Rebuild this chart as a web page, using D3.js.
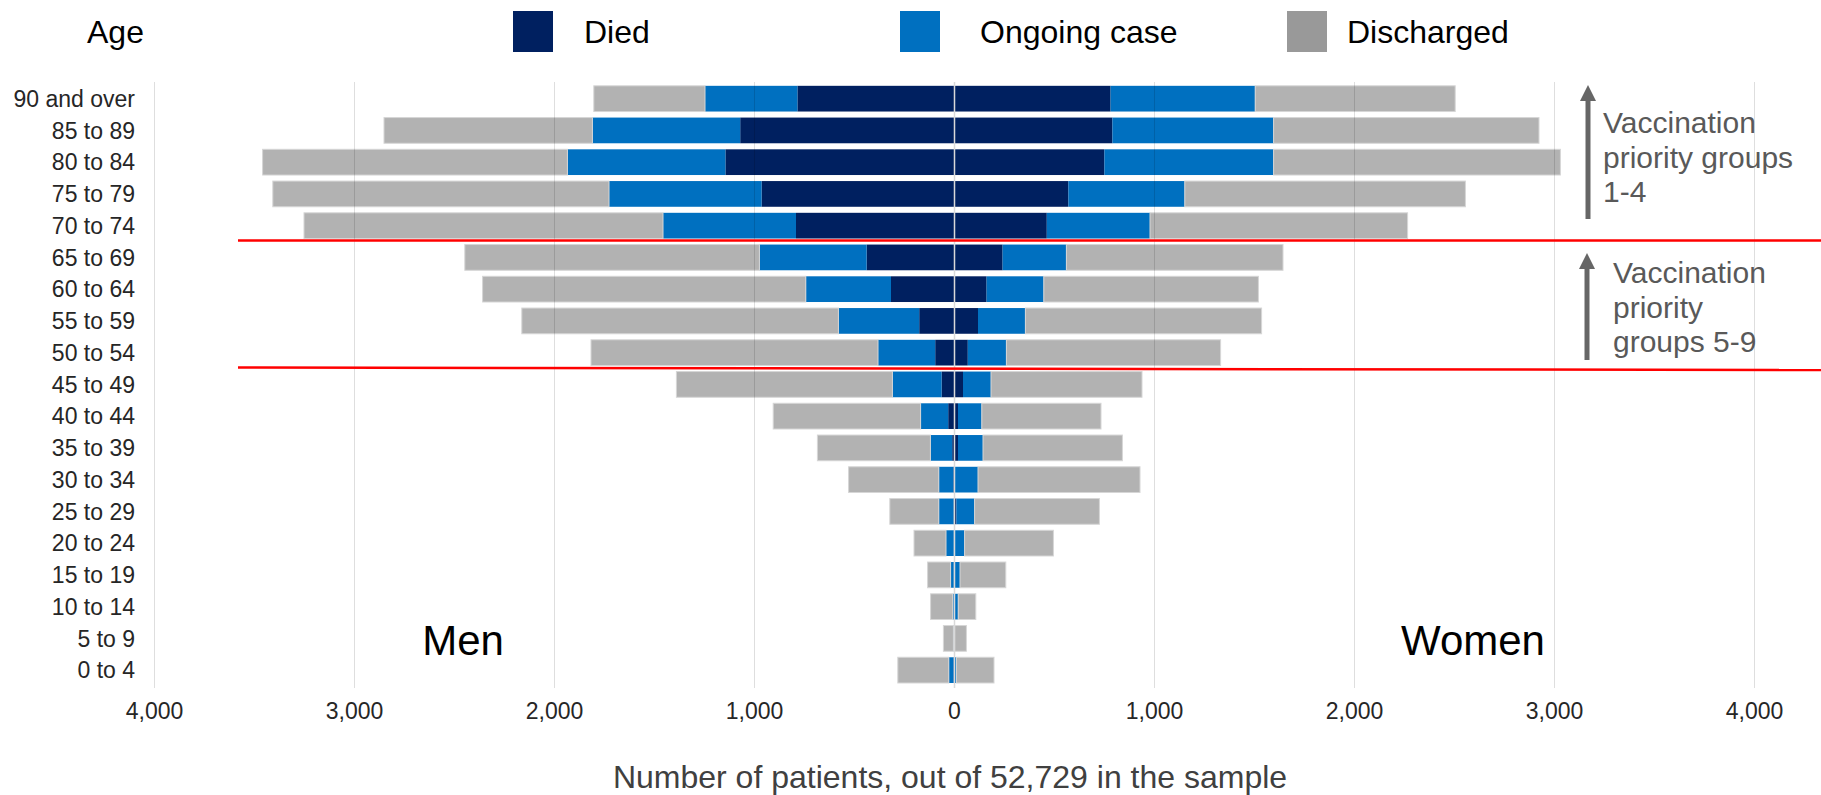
<!DOCTYPE html>
<html lang="en">
<head>
<meta charset="utf-8">
<title>Patients by age, sex and outcome</title>
<script src="https://cdn.jsdelivr.net/npm/d3@7"></script>
<style>
  body { margin: 0; background: #fff; }
  text { font-family: "Liberation Sans", Arial, sans-serif; }
</style>
</head>
<body>
<script>
// age bands, top to bottom
var ages = ["90 and over", "85 to 89", "80 to 84", "75 to 79", "70 to 74", "65 to 69",
  "60 to 64", "55 to 59", "50 to 54", "45 to 49", "40 to 44", "35 to 39", "30 to 34",
  "25 to 29", "20 to 24", "15 to 19", "10 to 14", "5 to 9", "0 to 4"];

// men (drawn to the left)
var menDied       = [783, 1069, 1143, 962, 790, 437, 315, 174, 94, 62, 29, 9, 3, 2, 1, 1, 0, 0, 2];
var menOngoing    = [462, 739, 790, 763, 665, 536, 426, 404, 286, 246, 138, 109, 73, 74, 39, 16, 6, 3, 24];
var menDischarged = [556, 1042, 1524, 1681, 1795, 1473, 1616, 1583, 1435, 1080, 737, 565, 451, 245, 160, 115, 111, 50, 255];

// women (drawn to the right)
var womenDied       = [783, 792, 752, 572, 464, 243, 163, 120, 69, 45, 20, 20, 3, 12, 2, 1, 1, 0, 1];
var womenOngoing    = [723, 806, 846, 582, 516, 319, 286, 237, 193, 140, 119, 125, 117, 91, 51, 29, 20, 3, 11];
var womenDischarged = [1000, 1327, 1434, 1403, 1288, 1083, 1073, 1181, 1071, 755, 596, 697, 810, 624, 444, 229, 88, 59, 188];

var outcomes = ["Died", "Ongoing case", "Discharged"];
var xTicks = [-4000, -3000, -2000, -1000, 0, 1000, 2000, 3000, 4000];

var width = 1821, height = 795;
var color = d3.scaleOrdinal().domain(outcomes).range(["#002060", "#0070c0", "#b2b2b2"]);
var legendColor = d3.scaleOrdinal().domain(outcomes).range(["#002060", "#0070c0", "#999999"]);

var svg = d3.select("body").append("svg")
  .attr("width", width)
  .attr("height", height);

var x = d3.scaleLinear().domain([-4000, 4000]).range([154, 1754]);
var y = d3.scaleBand().domain(ages).range([82.8, 686]).paddingInner(0.19).paddingOuter(0.095);

// build rows for the stack
function rows(died, ongoing, discharged) {
  return ages.map(function(a, i) {
    return {age: a, "Died": died[i], "Ongoing case": ongoing[i], "Discharged": discharged[i]};
  });
}
var stack = d3.stack().keys(outcomes);
var sides = [
  {sign: -1, series: stack(rows(menDied, menOngoing, menDischarged))},
  {sign: 1, series: stack(rows(womenDied, womenOngoing, womenDischarged))}
];

/** bars **/
sides.forEach(function(side) {
  svg.append("g").selectAll("g")
    .data(side.series)
    .join("g")
      .attr("fill", function(d) { return color(d.key); })
    .selectAll("rect")
    .data(function(d) { return d; })
    .join("rect")
      .attr("x", function(d) { return Math.min(x(side.sign * d[0]), x(side.sign * d[1])); })
      .attr("width", function(d) { return Math.abs(x(d[1]) - x(d[0])); })
      .attr("y", function(d) { return y(d.data.age); })
      .attr("height", y.bandwidth())
      .attr("stroke", function() { return d3.select(this.parentNode).datum().key == "Discharged" ? "#d6d6d6" : "none"; })
      .attr("stroke-width", 1);
});

/** gridlines over the bars **/
var grid = svg.append("g")
  .attr("transform", "translate(0," + 82 + ")")
  .call(d3.axisBottom(x).tickValues(xTicks).tickSize(606).tickFormat(""));
grid.select(".domain").remove();
grid.selectAll(".tick line")
  .attr("stroke", function(d) { return d === 0 ? "#d9d9d9" : "rgba(0,0,0,0.13)"; })
  .attr("stroke-width", function(d) { return d === 0 ? 1.5 : 1; });

/** x tick labels **/
var xAxis = svg.append("g")
  .attr("transform", "translate(0," + 696 + ")")
  .call(d3.axisBottom(x).tickValues(xTicks).tickSize(0)
    .tickFormat(function(d) { return d3.format(",")(Math.abs(d)); }));
xAxis.select(".domain").remove();
xAxis.selectAll("text")
  .attr("font-size", "23px")
  .attr("font-family", "'Liberation Sans', Arial, sans-serif")
  .attr("fill", "#262626")
  .attr("dy", "0.85em");

/** y labels **/
svg.append("g").selectAll("text")
  .data(ages)
  .join("text")
    .attr("x", 135)
    .attr("y", function(d) { return y(d) + y.bandwidth() / 2; })
    .attr("dy", "0.36em")
    .attr("text-anchor", "end")
    .attr("font-size", "23px")
    .attr("fill", "#262626")
    .text(function(d) { return d; });

/** axis title **/
svg.append("text")
  .attr("x", 950).attr("y", 788)
  .attr("text-anchor", "middle")
  .attr("font-size", "32px")
  .attr("fill", "#404040")
  .text("Number of patients, out of 52,729 in the sample");

/** legend **/
svg.append("text").attr("x", 87).attr("y", 43).attr("font-size", "32px").attr("fill", "#000").text("Age");
var legendX = [513, 900, 1287];
var legendTextX = [584, 980, 1347];
var lg = svg.append("g").selectAll("g")
  .data(outcomes)
  .join("g");
lg.append("rect")
  .attr("x", function(d, i) { return legendX[i]; })
  .attr("y", 11)
  .attr("width", 40).attr("height", 41)
  .attr("fill", function(d) { return legendColor(d); });
lg.append("text")
  .attr("x", function(d, i) { return legendTextX[i]; })
  .attr("y", 43)
  .attr("font-size", "32px").attr("fill", "#000")
  .text(function(d) { return d; });

/** Men / Women **/
svg.append("text").attr("x", 463).attr("y", 655).attr("text-anchor", "middle").attr("font-size", "42px").attr("fill", "#000").text("Men");
svg.append("text").attr("x", 1473).attr("y", 655).attr("text-anchor", "middle").attr("font-size", "42px").attr("fill", "#000").text("Women");

/** priority group dividers **/
var gap = (y.step() - y.bandwidth()) / 2;
var line1 = y("70 to 74") + y.bandwidth() + gap - 1;
var line2 = y("50 to 54") + y.bandwidth() + gap - 1;
svg.append("line").attr("x1", 238).attr("x2", width).attr("y1", line1).attr("y2", line1)
  .attr("stroke", "#ff0000").attr("stroke-width", 2.5);
svg.append("line").attr("x1", 238).attr("x2", width).attr("y1", line2).attr("y2", line2 + 2.5)
  .attr("stroke", "#ff0000").attr("stroke-width", 2.5);

/** arrows and notes **/
var defs = svg.append("defs");
defs.append("marker")
  .attr("id", "head")
  .attr("viewBox", "0 0 10 10")
  .attr("refX", 0).attr("refY", 5)
  .attr("markerWidth", 3.2).attr("markerHeight", 3.2)
  .attr("markerUnits", "strokeWidth")
  .attr("orient", "auto")
  .append("path").attr("d", "M0,0 L10,5 L0,10 Z").attr("fill", "#666");

function arrow(xp, y0, y1) {
  svg.append("line")
    .attr("x1", xp).attr("x2", xp).attr("y1", y0).attr("y2", y1)
    .attr("stroke", "#666").attr("stroke-width", 5)
    .attr("marker-end", "url(#head)");
}
arrow(1588, 219, 101);
arrow(1587, 360, 269);

function note(xp, lines, y0) {
  svg.append("g").selectAll("text")
    .data(lines)
    .join("text")
      .attr("x", xp)
      .attr("y", function(d, i) { return y0 + i * 34.5; })
      .attr("font-size", "30px")
      .attr("fill", "#595959")
      .text(function(d) { return d; });
}
note(1603, ["Vaccination", "priority groups", "1-4"], 133);
note(1613, ["Vaccination", "priority", "groups 5-9"], 283);
</script>
</body>
</html>
